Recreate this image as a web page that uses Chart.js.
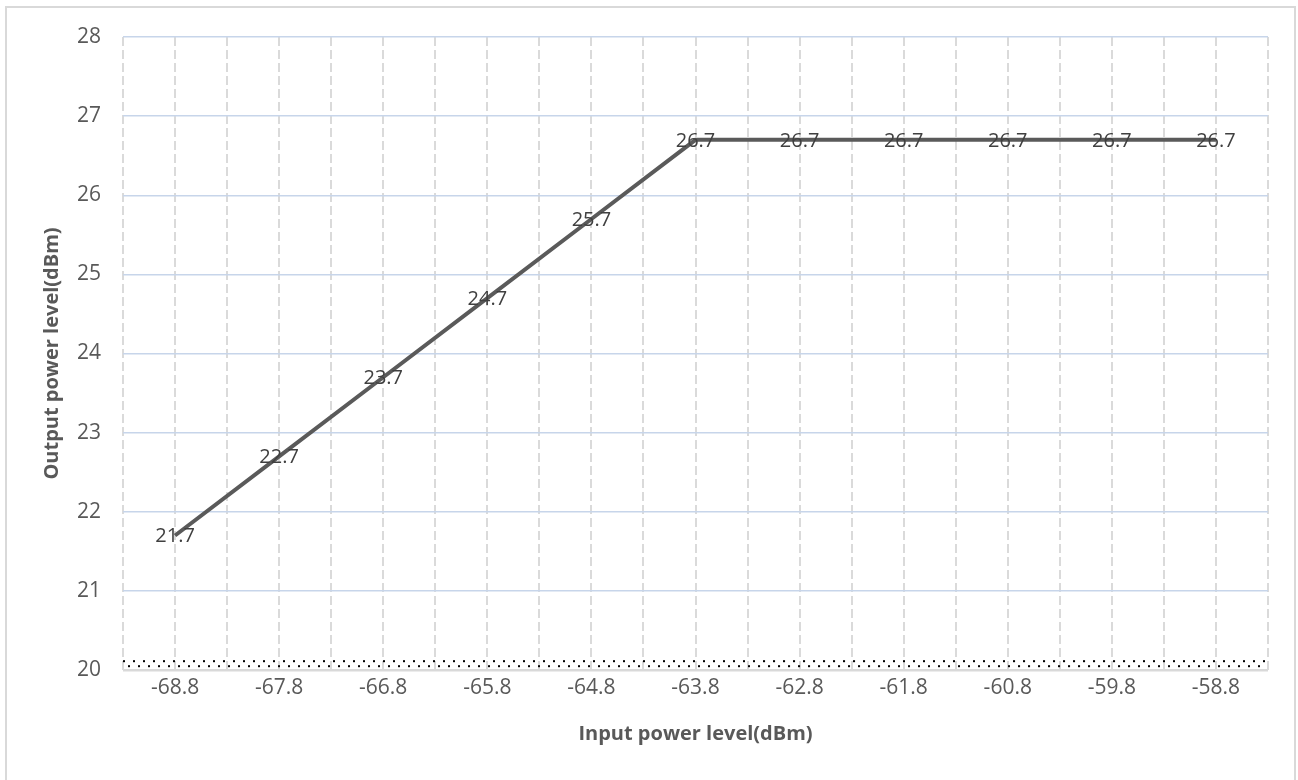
<!DOCTYPE html>
<html>
<head>
<meta charset="utf-8">
<script src="https://cdn.jsdelivr.net/npm/chart.js@4.4.0/dist/chart.umd.min.js"></script>
<style>
  html, body { margin: 0; padding: 0; background: #fff; }
  #wrap { position: relative; width: 1298px; height: 780px; overflow: hidden; }
  #frame { position: absolute; left: 5px; top: 6px; width: 1287px; height: 800px; border: 2px solid #d9d9d9; pointer-events: none; }
  canvas { position: absolute; left: 0; top: 0; }
</style>
</head>
<body>
<div id="wrap">
  <canvas id="c" width="1298" height="780"></canvas>
  <div id="frame"></div>
</div>
<script>
const categories = ["-68.8", "-67.8", "-66.8", "-65.8", "-64.8", "-63.8", "-62.8", "-61.8", "-60.8", "-59.8", "-58.8"];
const outputPower = [21.7, 22.7, 23.7, 24.7, 25.7, 26.7, 26.7, 26.7, 26.7, 26.7, 26.7];
const yTicks = [20, 21, 22, 23, 24, 25, 26, 27, 28];
const xTitle = "Input power level(dBm)";
const yTitle = "Output power level(dBm)";

const FONT = "'Open Sans', 'Liberation Sans', sans-serif";

function makeDotPattern(ctx) {
  const p = document.createElement('canvas');
  p.width = 10; p.height = 10;
  const g = p.getContext('2d');
  g.fillStyle = '#000';
  g.fillRect(0, 2, 2, 2);
  g.fillRect(5, 7, 2, 2);
  return ctx.createPattern(p, 'repeat');
}

const labelsPlugin = {
  id: 'pointLabels',
  afterDatasetsDraw(chart) {
    const ctx = chart.ctx;
    const meta = chart.getDatasetMeta(0);
    ctx.save();
    ctx.font = "20px " + FONT;
    ctx.fillStyle = '#404040';
    ctx.textAlign = 'center';
    ctx.textBaseline = 'middle';
    meta.data.forEach((pt, i) => {
      ctx.fillText(String(outputPower[i]), pt.x, pt.y + 1);
    });
    ctx.restore();
  }
};

const dotStripPlugin = {
  id: 'dotStrip',
  beforeDatasetsDraw(chart) {
    const ctx = chart.ctx;
    const a = chart.chartArea;
    const y = chart.scales.y;
    const top = y.getPixelForValue(20.15);
    const bottom = y.getPixelForValue(20);
    ctx.save();
    ctx.translate(a.left, top);
    ctx.fillStyle = makeDotPattern(ctx);
    ctx.fillRect(0, 0, a.right - a.left, bottom - top - 1);
    ctx.restore();
  }
};

new Chart(document.getElementById('c'), {
  type: 'line',
  data: {
    labels: categories,
    datasets: [{
      data: outputPower,
      borderColor: '#5a5a5a',
      borderWidth: 4,
      pointRadius: 0,
      tension: 0,
      xAxisID: 'x',
      yAxisID: 'y'
    }]
  },
  options: {
    responsive: false,
    animation: false,
    layout: { padding: { left: 17, right: 30, top: 37, bottom: 30 } },
    plugins: { legend: { display: false }, tooltip: { enabled: false } },
    scales: {
      x: {
        type: 'category',
        offset: true,
        grid: { offset: false, color: '#dadada', lineWidth: 2, drawTicks: false },
        border: { display: false, dash: [9, 4] },
        ticks: { color: '#595959', font: { family: FONT, size: 21 }, padding: 5, maxRotation: 0 },
        title: { display: true, text: xTitle, color: '#595959', font: { family: FONT, size: 20, weight: 'bold' }, padding: { top: 2 } },
        afterFit(s) { s.height = 80; }
      },
      x2: {
        type: 'category',
        labels: categories,
        offset: true,
        position: 'bottom',
        display: true,
        grid: { offset: true, color: '#dadada', lineWidth: 2, drawTicks: false },
        border: { display: false, dash: [9, 4] },
        ticks: { display: false },
        afterFit(s) { s.height = 0; }
      },
      y: {
        min: 20,
        max: 28,
        afterBuildTicks(s) { s.ticks = yTicks.map(v => ({ value: v })); },
        grid: {
          color: (c) => c.tick && c.tick.value === 20 ? '#d9d9d9' : '#c7d5ea',
          lineWidth: (c) => c.tick && c.tick.value === 20 ? 2.5 : 1.5,
          drawTicks: false
        },
        border: { display: false },
        ticks: { color: '#595959', font: { family: FONT, size: 21 }, padding: 22 },
        title: { display: true, text: yTitle, color: '#595959', font: { family: FONT, size: 20, weight: 'bold' }, padding: { top: 23, bottom: 0 } },
        afterFit(s) { s.width = 106; }
      }
    }
  },
  plugins: [dotStripPlugin, labelsPlugin]
});
</script>
</body>
</html>
